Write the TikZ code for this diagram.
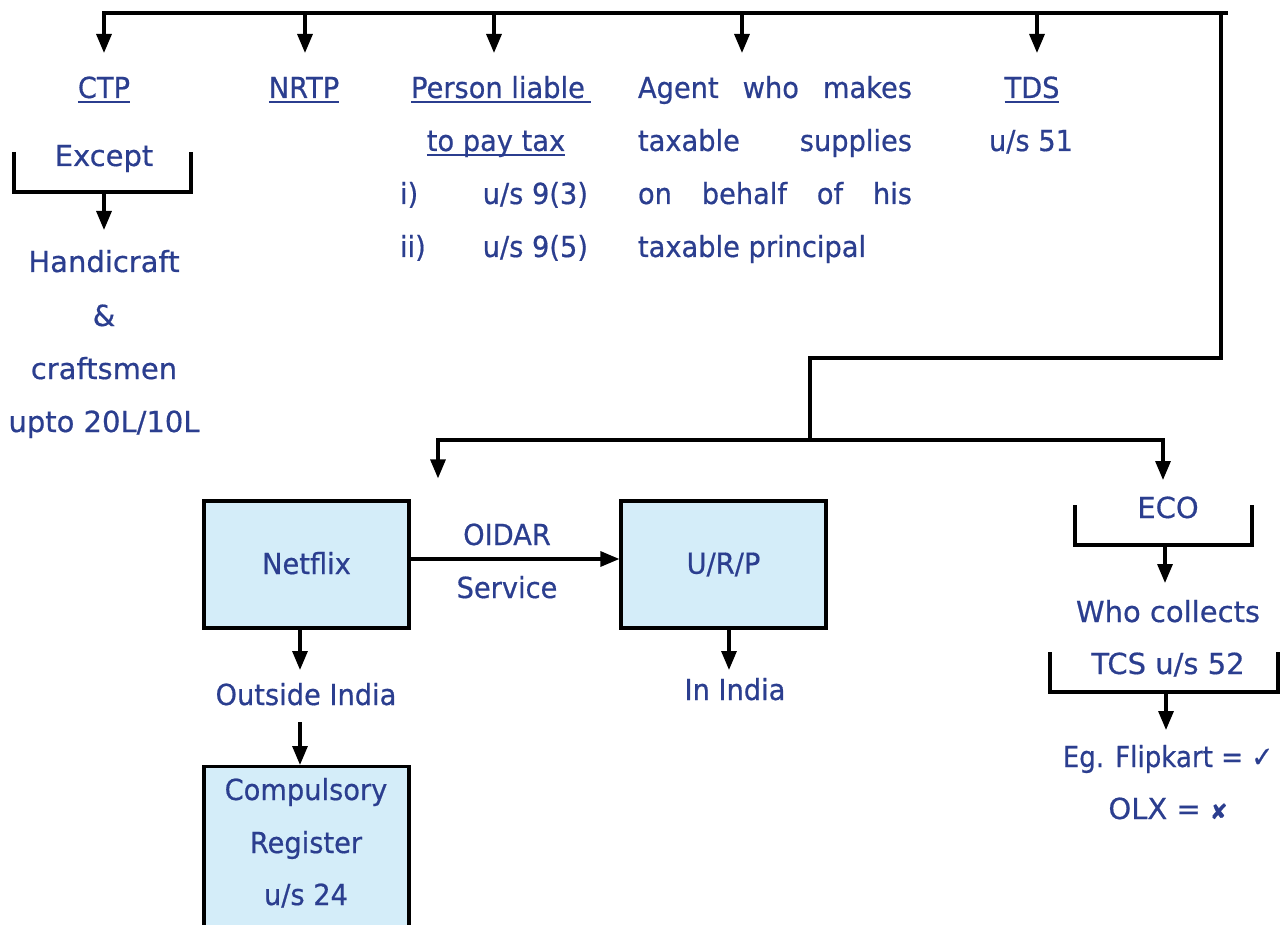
\documentclass[tikz,border=0pt]{standalone}
\usepackage{fontspec}
\setmainfont{DejaVu Sans}[FakeBold=0.6]
\newfontfamily\cond{DejaVu Sans}[FakeStretch=0.94,FakeBold=0.6]
\newfontfamily\narrowf{DejaVu Sans}[FakeStretch=0.9,FakeBold=0.6]
\usetikzlibrary{arrows.meta}
\definecolor{tblue}{RGB}{43,62,143}
\definecolor{boxfill}{RGB}{212,237,249}
\begin{document}
\begin{tikzpicture}[x=1pt,y=-1pt,line width=3.2pt,
  txt/.style={anchor=base,inner sep=0pt,outer sep=0pt,text=tblue,
    font=\fontsize{29}{35}\selectfont,text height=22pt,text depth=7pt},
  ctxt/.style={txt,font=\cond\fontsize{29}{35}\selectfont},
  ntxt/.style={txt,font=\narrowf\fontsize{29}{35}\selectfont},
  arr/.style={-{Triangle[length=19pt,width=15pt]}},
  ul/.style={draw=tblue,line width=2pt},
  bx/.style={draw=black,fill=boxfill,line width=3.2pt,minimum width=205pt,
    minimum height=127pt,inner sep=0pt,text=tblue,
    font=\cond\fontsize{29}{35}\selectfont},
  brk/.style={draw=black,line width=3.2pt}]
\useasboundingbox (0,0) rectangle (1284,925);
\clip (0,0) rectangle (1284,925);

% ---------- top row texts ----------
\node[ctxt] (ctp) at (104,98) {CTP};
\node[ctxt] (nrtp) at (304,98) {NRTP};
\node[ctxt] (pl1) at (498,98) {Person liable};
\node[ctxt] (pl2) at (496,151) {to pay tax};
\node[ctxt,anchor=base west] (i1) at (400,204) {i)};
\node[ctxt,anchor=base east] (u1) at (588,204) {u/s 9(3)};
\node[ctxt,anchor=base west] (i2) at (400,257) {ii)};
\node[ctxt,anchor=base east] (u2) at (588,257) {u/s 9(5)};
\node[ctxt,anchor=base west] (ag1) at (638,98) {\hbox to 274pt{Agent\hfill who\hfill makes}};
\node[ctxt,anchor=base west] (ag2) at (638,151) {\hbox to 274pt{taxable\hfill supplies}};
\node[ctxt,anchor=base west] (ag3) at (638,204) {\hbox to 274pt{on\hfill behalf\hfill of\hfill his}};
\node[ctxt,anchor=base west] (ag4) at (638,257) {taxable principal};
\node[ctxt] (tds) at (1032,98) {TDS};
\node[ctxt] (tds2) at (1031,151) {u/s 51};

% underlines
\draw[ul] ([yshift=-4pt]ctp.base west) -- ([yshift=-4pt]ctp.base east);
\draw[ul] ([yshift=-4pt]nrtp.base west) -- ([yshift=-4pt]nrtp.base east);
\draw[ul] ([yshift=-4pt]pl1.base west) -- ([yshift=-4pt,xshift=6pt]pl1.base east);
\draw[ul] ([yshift=-4pt]pl2.base west) -- ([yshift=-4pt]pl2.base east);
\draw[ul] ([yshift=-4pt]tds.base west) -- ([yshift=-4pt]tds.base east);

% ---------- CTP exception ----------
\node[txt] (except) at (104,166) {Except};
\node[txt] (hc1) at (104,272) {Handicraft};
\node[txt] (hc2) at (104,326) {\&};
\node[txt] (hc3) at (104,379) {craftsmen};
\node[txt] (hc4) at (104,432) {upto 20L/10L};

\coordinate (exL) at (14,152);
\coordinate (exR) at (191,152);
\coordinate (exB) at (104,192);
\draw[brk] (exL) -- (exL |- exB) -- (exR |- exB) -- (exR);
\draw[arr,shorten >=20pt] (exB) -- (exB |- hc1.north);

% ---------- top bus ----------
\coordinate (b1) at (104,13);
\coordinate (b2) at (305,13);
\coordinate (b3) at (494,13);
\coordinate (b4) at (742,13);
\coordinate (b5) at (1037,13);
\coordinate (bR) at (1221,13);
\coordinate (bEnd) at (1228,13);
\coordinate (r1) at (1221,358);
\coordinate (m1) at (810,358);
\coordinate (m2) at (810,440);
\coordinate (l2) at (438,440);
\coordinate (r2) at (1163,440);

\draw ([xshift=-1.6pt]b1) -- (bEnd);
\draw (bR) -- (r1) -- (m1) -- (m2);
\draw ([xshift=-1.6pt]l2) -- ([xshift=1.6pt]r2);

\draw[arr,shorten >=23pt] (b1) -- (b1 |- ctp.north);
\draw[arr,shorten >=23pt] (b2) -- (b2 |- nrtp.north);
\draw[arr,shorten >=23pt] (b3) -- (b3 |- pl1.north);
\draw[arr,shorten >=23pt] (b4) -- (b4 |- ag1.north);
\draw[arr,shorten >=23pt] (b5) -- (b5 |- tds.north);

% ---------- OIDAR part ----------
\node[bx] (netflix) at (306.5,564.5) {\raisebox{3pt}{Netflix}};
\node[bx] (urp) at (723.5,564.5) {U/R/P};
\node[ctxt] (oidar) at (507,545) {OIDAR};
\node[ctxt] (service) at (507,598) {Service};
\node[ctxt] (out) at (306,705) {Outside India};
\node[ctxt] (inind) at (735,700) {In India};
\node[bx,anchor=north,minimum height=185pt] (comp) at (306.5,765) {};
\node[ctxt] (comp1) at (306,800) {Compulsory};
\node[ctxt] (comp2) at (306,853) {Register};
\node[ctxt] (comp3) at (306,905) {u/s 24};

\draw[arr,shorten >=21pt] (l2) -- (l2 |- netflix.north);
\draw[arr] ([yshift=5.5pt]netflix.east) -- ([yshift=5.5pt]urp.west);
\draw[arr,shorten >=13pt] ([xshift=-6.5pt]netflix.south) -- ([xshift=-6.5pt]netflix.south |- out.north);
\draw[arr,shorten <=10pt] ([xshift=-6.5pt]netflix.south |- out.south) -- ([xshift=-6.5pt]comp.north);
\draw[arr,shorten >=8pt] ([xshift=5.5pt]urp.south) -- ([xshift=5.5pt]urp.south |- inind.north);

% ---------- ECO part ----------
\node[txt] (eco) at (1168,518) {ECO};
\node[txt] (who) at (1168,622) {Who collects};
\node[txt] (tcs) at (1168,674) {TCS u/s 52};
\node[ntxt] (eg) at (1168,767) {Eg. Flipkart = ✓};
\node[txt] (olx) at (1168,819) {OLX = {\fontsize{21}{24}\selectfont ✘}};

\coordinate (ecL) at (1075,505);
\coordinate (ecR) at (1252,505);
\coordinate (ecB) at (1165,545);
\draw[brk] (ecL) -- (ecL |- ecB) -- (ecR |- ecB) -- (ecR);
\coordinate (tcL) at (1050,652);
\coordinate (tcR) at (1278,652);
\coordinate (tcB) at (1166,692);
\draw[brk] (tcL) -- (tcL |- tcB) -- (tcR |- tcB) -- (tcR);

\draw[arr,shorten >=16pt] (r2) -- (r2 |- eco.north);
\draw[arr,shorten >=17pt] (ecB) -- (ecB |- who.north);
\draw[arr,shorten >=15pt] (tcB) -- (tcB |- eg.north);
\end{tikzpicture}
\end{document}
